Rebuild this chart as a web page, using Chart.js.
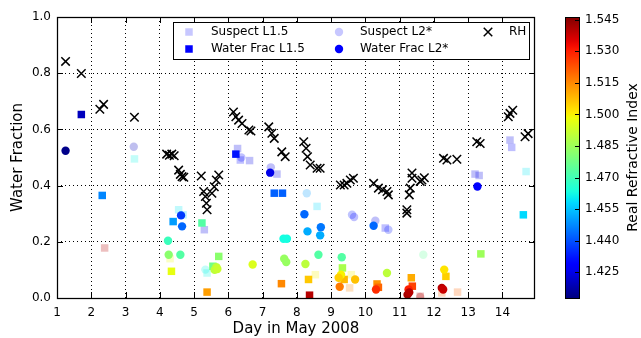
<!DOCTYPE html>
<html>
<head>
<meta charset="utf-8">
<script src="https://cdn.jsdelivr.net/npm/chart.js@4.4.0/dist/chart.umd.min.js"></script>
<style>
    html, body { margin: 0; padding: 0; background: #fff; }
    #wrap { width: 641px; height: 338px; }
</style>
</head>
<body>
<div id="wrap"><canvas id="chart" width="641" height="338"></canvas></div>
<script>
// Water fraction vs day, coloured by real refractive index
const l15Day  = [1.71, 2.32, 4.39, 4.34, 5.23, 5.72, 5.55, 5.38, 6.22, 7.34, 7.58, 7.55, 8.34, 8.37, 9.33, 9.38, 10.34, 10.38, 11.34, 11.37, 12.35, 13.37, 14.61];
const l15Frac = [0.653, 0.365, 0.272, 0.095, 0.267, 0.148, 0.113, 0.021, 0.512, 0.373, 0.373, 0.051, 0.066, 0.010, 0.107, 0.066, 0.050, 0.038, 0.072, 0.042, 0.077, 0.157, 0.296];
const l15Ri   = [1.420, 1.447, 1.450, 1.497, 1.473, 1.482, 1.478, 1.512, 1.432, 1.442, 1.442, 1.515, 1.506, 1.540, 1.487, 1.508, 1.514, 1.520, 1.510, 1.525, 1.505, 1.485, 1.458];

const l2Day  = [1.25, 4.62, 4.65, 4.24, 4.26, 4.60, 5.60, 5.65, 5.68, 6.71, 7.22, 7.61, 7.71, 7.63, 7.69, 8.22, 8.31, 8.70, 8.68, 8.25, 8.63, 9.31, 9.29, 9.22, 9.70, 9.25, 10.24, 10.63, 10.31, 11.26, 11.23, 11.28, 12.30, 12.23, 12.27, 13.27];
const l2Frac = [0.524, 0.294, 0.255, 0.204, 0.154, 0.154, 0.100, 0.110, 0.103, 0.119, 0.446, 0.211, 0.211, 0.140, 0.128, 0.298, 0.237, 0.252, 0.223, 0.121, 0.154, 0.145, 0.083, 0.072, 0.066, 0.040, 0.257, 0.089, 0.030, 0.030, 0.012, 0.020, 0.101, 0.036, 0.030, 0.397];
const l2Ri   = [1.414, 1.437, 1.443, 1.469, 1.482, 1.473, 1.490, 1.490, 1.492, 1.495, 1.425, 1.463, 1.463, 1.484, 1.484, 1.443, 1.452, 1.445, 1.452, 1.490, 1.473, 1.473, 1.500, 1.505, 1.507, 1.517, 1.443, 1.490, 1.528, 1.530, 1.542, 1.540, 1.502, 1.540, 1.538, 1.428];

const susL15Day  = [2.39, 3.26, 4.55, 4.68, 4.30, 5.30, 5.38, 6.27, 6.35, 6.62, 7.42, 8.59, 8.54, 9.59, 9.54, 10.58, 11.60, 12.23, 12.69, 13.20, 13.32, 14.22, 14.27, 14.69];
const susL15Frac = [0.178, 0.495, 0.314, 0.296, 0.140, 0.243, 0.089, 0.532, 0.491, 0.489, 0.441, 0.326, 0.083, 0.083, 0.036, 0.249, 0.006, 0.018, 0.021, 0.441, 0.436, 0.562, 0.536, 0.450];
const susL15Ri   = [1.540, 1.462, 1.460, 1.455, 1.498, 1.425, 1.462, 1.425, 1.430, 1.425, 1.425, 1.458, 1.500, 1.500, 1.515, 1.430, 1.540, 1.520, 1.520, 1.425, 1.425, 1.425, 1.428, 1.460];

const susL2Day  = [3.24, 5.33, 6.38, 7.24, 8.29, 9.61, 9.67, 10.29, 10.67, 11.69, 11.60];
const susL2Frac = [0.538, 0.101, 0.500, 0.465, 0.373, 0.296, 0.288, 0.275, 0.243, 0.154, 0.004];
const susL2Ri   = [1.420, 1.462, 1.430, 1.425, 1.450, 1.432, 1.430, 1.425, 1.432, 1.475, 1.540];

const rhDay = [1.25, 1.71, 2.25, 2.36, 3.26,
    4.20, 4.28, 4.35, 4.42, 4.55, 4.60, 4.65, 4.70,
    5.21, 5.28, 5.33, 5.36, 5.38, 5.52, 5.59, 5.65, 5.72,
    6.15, 6.22, 6.30, 6.40, 6.60, 6.66,
    7.18, 7.27, 7.34, 7.56, 7.66,
    8.20, 8.27, 8.31, 8.39, 8.59, 8.68,
    9.27, 9.38, 9.46, 9.56, 9.65,
    10.24, 10.38, 10.50, 10.63, 10.67,
    11.21, 11.21, 11.28, 11.31, 11.36, 11.36, 11.60, 11.65, 11.72,
    12.28, 12.38, 12.67, 13.25, 13.35,
    14.17, 14.22, 14.30, 14.66, 14.75];
const rhVal = [0.842, 0.799, 0.672, 0.689, 0.643,
    0.512, 0.508, 0.512, 0.506, 0.455, 0.440, 0.432, 0.430,
    0.434, 0.379, 0.361, 0.337, 0.314, 0.373, 0.396, 0.420, 0.438,
    0.662, 0.645, 0.633, 0.621, 0.598, 0.594,
    0.609, 0.586, 0.568, 0.520, 0.503,
    0.556, 0.533, 0.503, 0.473, 0.462, 0.462,
    0.402, 0.402, 0.408, 0.420, 0.426,
    0.408, 0.391, 0.385, 0.379, 0.367,
    0.302, 0.314, 0.367, 0.391, 0.426, 0.445, 0.415, 0.420, 0.428,
    0.497, 0.491, 0.494, 0.556, 0.550,
    0.645, 0.657, 0.668, 0.574, 0.585];

const dayTicks = [1, 2, 3, 4, 5, 6, 7, 8, 9, 10, 11, 12, 13, 14];
const fracTicks = [0, 0.2, 0.4, 0.6, 0.8, 1.0];
const riTicks = [1.425, 1.440, 1.455, 1.470, 1.485, 1.500, 1.515, 1.530, 1.545];
const riMin = 1.4128;
const riMax = 1.5463;

// matplotlib jet colormap
const jetSeg = {
    r: [[0, 0], [0.35, 0], [0.66, 1], [0.89, 1], [1, 0.5]],
    g: [[0, 0], [0.125, 0], [0.375, 1], [0.64, 1], [0.91, 0], [1, 0]],
    b: [[0, 0.5], [0.11, 1], [0.34, 1], [0.65, 0], [1, 0]]
};
function segVal(seg, t) {
    for (let i = 1; i < seg.length; i++) {
        if (t <= seg[i][0]) {
            const a = seg[i - 1], b = seg[i];
            return a[1] + (b[1] - a[1]) * (t - a[0]) / (b[0] - a[0]);
        }
    }
    return seg[seg.length - 1][1];
}
function jet(t, alpha) {
    t = Math.max(0, Math.min(1, t));
    const r = Math.round(255 * segVal(jetSeg.r, t));
    const g = Math.round(255 * segVal(jetSeg.g, t));
    const b = Math.round(255 * segVal(jetSeg.b, t));
    return `rgba(${r},${g},${b},${alpha})`;
}
function riColor(v, alpha) {
    return jet((v - riMin) / (riMax - riMin), alpha);
}
function toPoints(xs, ys) {
    return xs.map((x, i) => ({ x: x, y: ys[i] }));
}
// keep the tick padding from pushing the plot area around
function noEdgePadding(s) {
    s.paddingTop = 0;
    s.paddingBottom = 0;
}

const SUSPECT_ALPHA = 0.25;
const font = 'DejaVu Sans';
Chart.defaults.font.family = font;
Chart.defaults.color = '#000';

// frame, inward ticks, colorbar and legend
const decorPlugin = {
    id: 'decor',
    beforeDraw(chart) {
        const ctx = chart.ctx;
        ctx.save();
        ctx.fillStyle = '#fff';
        ctx.fillRect(0, 0, chart.width, chart.height);
        ctx.restore();
    },
    afterDatasetsDraw(chart) {
        const ctx = chart.ctx;
        const area = chart.chartArea;
        const xs = chart.scales.x, ys = chart.scales.y, cb = chart.scales.cb;
        ctx.save();

        // plot frame
        ctx.strokeStyle = '#000';
        ctx.lineWidth = 1.25;
        ctx.strokeRect(Math.round(area.left) + 0.5, Math.round(area.top) + 0.5,
            Math.round(area.right - area.left) - 1, Math.round(area.bottom - area.top));

        // inward tick marks
        ctx.lineWidth = 1;
        ctx.beginPath();
        dayTicks.forEach(v => {
            const px = Math.round(xs.getPixelForValue(v)) + 0.5;
            ctx.moveTo(px, area.bottom); ctx.lineTo(px, area.bottom - 6);
            ctx.moveTo(px, area.top); ctx.lineTo(px, area.top + 6);
        });
        fracTicks.forEach(v => {
            const py = Math.round(ys.getPixelForValue(v)) + 0.5;
            ctx.moveTo(area.left, py); ctx.lineTo(area.left + 6, py);
            ctx.moveTo(area.right, py); ctx.lineTo(area.right - 6, py);
        });
        ctx.stroke();

        // colorbar
        const cbL = 565, cbR = 580;
        const cbTop = cb.getPixelForValue(riMax), cbBot = cb.getPixelForValue(riMin);
        const grad = ctx.createLinearGradient(0, cbBot, 0, cbTop);
        for (let i = 0; i <= 50; i++) grad.addColorStop(i / 50, jet(i / 50, 1));
        ctx.fillStyle = grad;
        ctx.fillRect(cbL, cbTop, cbR - cbL, cbBot - cbTop);
        ctx.strokeRect(cbL + 0.5, Math.round(cbTop) + 0.5, cbR - cbL - 1, Math.round(cbBot - cbTop));
        ctx.beginPath();
        riTicks.forEach(v => {
            const py = Math.round(cb.getPixelForValue(v)) + 0.5;
            ctx.moveTo(cbR, py); ctx.lineTo(cbR - 5, py);
        });
        ctx.stroke();

        // colorbar title
        ctx.save();
        ctx.translate(633, (cbTop + cbBot) / 2);
        ctx.rotate(-Math.PI / 2);
        ctx.font = `14px "${font}"`;
        ctx.fillStyle = '#000';
        ctx.textAlign = 'center';
        ctx.textBaseline = 'middle';
        ctx.fillText('Real Refractive Index', 0, 0);
        ctx.restore();

        // legend
        const box = { l: 173, t: 22, r: 529, b: 59 };
        ctx.fillStyle = '#fff';
        ctx.fillRect(box.l, box.t, box.r - box.l, box.b - box.t);
        ctx.strokeStyle = '#000';
        ctx.lineWidth = 1;
        ctx.strokeRect(box.l + 0.5, box.t + 0.5, box.r - box.l, box.b - box.t);
        const slots = [
            { mx: 189, tx: 211, y: 32 }, { mx: 189, tx: 211, y: 49 },
            { mx: 339, tx: 360, y: 32 }, { mx: 339, tx: 360, y: 49 },
            { mx: 488, tx: 509, y: 32 }
        ];
        chart.data.datasets.forEach(ds => {
            const s = slots[ds.legendSlot];
            ctx.fillStyle = ds.legendColor;
            ctx.strokeStyle = ds.legendColor;
            ctx.lineWidth = ds.pointBorderWidth;
            Chart.helpers.drawPoint(ctx, {
                pointStyle: ds.pointStyle, radius: ds.pointRadius,
                rotation: 0, borderWidth: ds.pointBorderWidth
            }, s.mx, s.y);
            ctx.fillStyle = '#000';
            ctx.font = `12px "${font}"`;
            ctx.textAlign = 'left';
            ctx.textBaseline = 'middle';
            ctx.fillText(ds.label, s.tx, s.y);
        });
        ctx.restore();
    }
};

const ctx = document.getElementById('chart');
new Chart(ctx, {
    type: 'scatter',
    data: {
        datasets: [
            {
                label: 'RH', order: 0, legendSlot: 4, legendColor: '#000',
                data: toPoints(rhDay, rhVal),
                pointStyle: 'crossRot', pointRadius: 6, pointBorderWidth: 1.5,
                borderColor: '#000', backgroundColor: '#000'
            },
            {
                label: 'Water Frac L2*', order: 1, legendSlot: 3, legendColor: 'rgb(0,0,255)',
                data: toPoints(l2Day, l2Frac),
                pointStyle: 'circle', pointRadius: 4.2, pointBorderWidth: 0,
                backgroundColor: l2Ri.map(v => riColor(v, 1)),
                borderColor: l2Ri.map(v => riColor(v, 1))
            },
            {
                label: 'Water Frac L1.5', order: 1, legendSlot: 1, legendColor: 'rgb(0,0,255)',
                data: toPoints(l15Day, l15Frac),
                pointStyle: 'rect', pointRadius: 5.3, pointBorderWidth: 0,
                backgroundColor: l15Ri.map(v => riColor(v, 1)),
                borderColor: l15Ri.map(v => riColor(v, 1))
            },
            {
                label: 'Suspect L2*', order: 2, legendSlot: 2, legendColor: 'rgba(0,0,255,0.22)',
                data: toPoints(susL2Day, susL2Frac),
                pointStyle: 'circle', pointRadius: 4.2, pointBorderWidth: 0,
                backgroundColor: susL2Ri.map(v => riColor(v, SUSPECT_ALPHA)),
                borderColor: susL2Ri.map(v => riColor(v, SUSPECT_ALPHA))
            },
            {
                label: 'Suspect L1.5', order: 2, legendSlot: 0, legendColor: 'rgba(0,0,255,0.22)',
                data: toPoints(susL15Day, susL15Frac),
                pointStyle: 'rect', pointRadius: 5.3, pointBorderWidth: 0,
                backgroundColor: susL15Ri.map(v => riColor(v, SUSPECT_ALPHA)),
                borderColor: susL15Ri.map(v => riColor(v, SUSPECT_ALPHA))
            }
        ]
    },
    options: {
        responsive: false,
        animation: false,
        devicePixelRatio: 1,
        layout: { padding: { top: 17, left: 0, right: 0, bottom: 0 } },
        plugins: { legend: { display: false }, tooltip: { enabled: false } },
        scales: {
            x: {
                type: 'linear', min: 1, max: 14.95,
                afterBuildTicks: s => { s.ticks = dayTicks.map(v => ({ value: v })); },
                afterFit: s => { s.height = 40; s.paddingLeft = 0; s.paddingRight = 0; },
                grid: { color: '#000', lineWidth: 1, drawTicks: false },
                border: { display: false, dash: [1, 3] },
                ticks: { padding: 8, autoSkip: false, maxRotation: 0, font: { size: 12 }, callback: v => String(v) },
                title: { display: true, text: 'Day in May 2008', font: { size: 15 }, padding: { top: 0, bottom: 0 } }
            },
            y: {
                type: 'linear', min: 0, max: 1,
                afterBuildTicks: s => { s.ticks = fracTicks.map(v => ({ value: v })); },
                afterFit: s => { s.width = 57; noEdgePadding(s); },
                grid: { color: '#000', lineWidth: 1, drawTicks: false },
                border: { display: false, dash: [1, 3] },
                ticks: { padding: 6, font: { size: 12 }, callback: v => v.toFixed(1) },
                title: { display: true, text: 'Water Fraction', font: { size: 15 }, padding: { top: 9, bottom: 0 } }
            },
            cb: {
                type: 'linear', position: 'right', min: riMin, max: riMax,
                afterBuildTicks: s => { s.ticks = riTicks.map(v => ({ value: v })); },
                afterFit: s => { s.width = 106; noEdgePadding(s); },
                grid: { display: false, drawTicks: false, drawOnChartArea: false },
                border: { display: false },
                ticks: { padding: 50, font: { size: 12 }, callback: v => v.toFixed(3) }
            }
        }
    },
    plugins: [decorPlugin]
});
</script>
</body>
</html>
